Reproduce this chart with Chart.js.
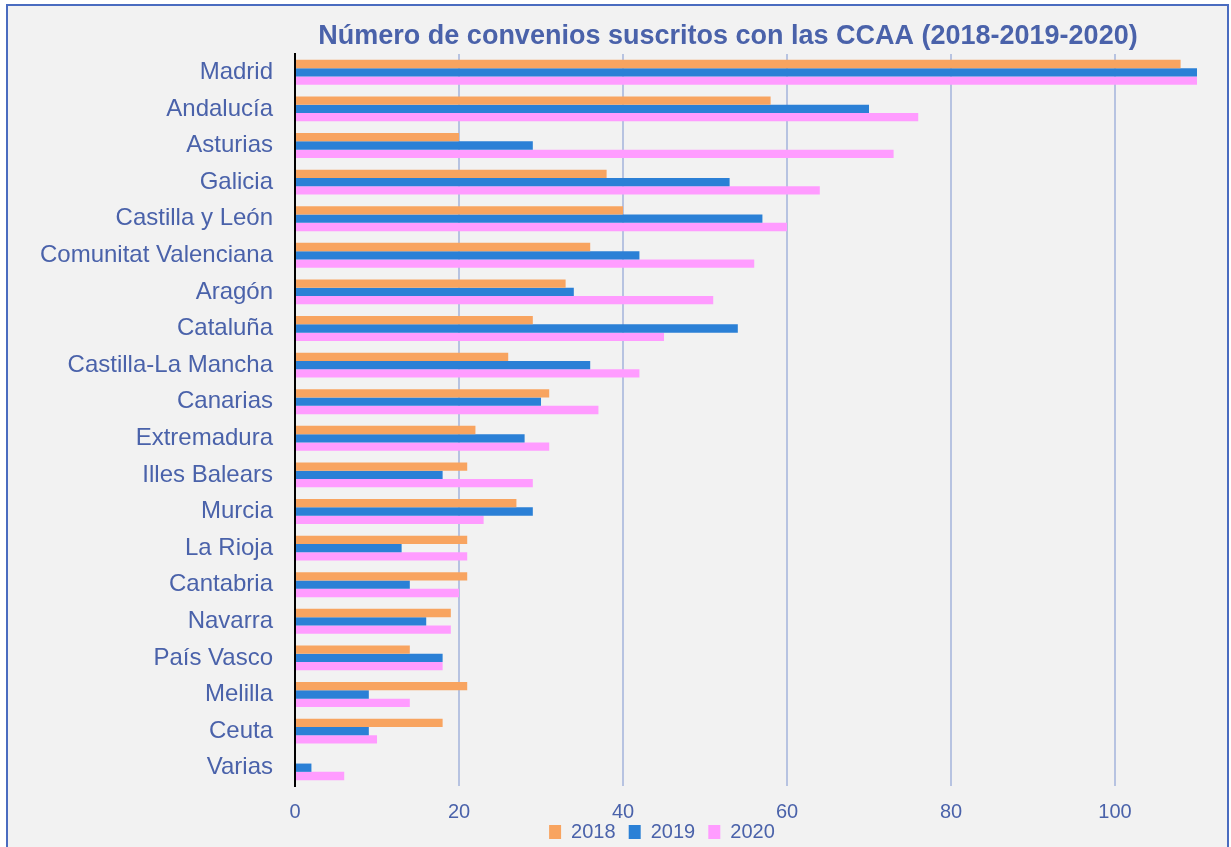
<!DOCTYPE html>
<html>
<head>
<meta charset="utf-8">
<script src="https://cdn.jsdelivr.net/npm/chart.js@4.4.1/dist/chart.umd.min.js"></script>
<style>
    html, body { margin: 0; padding: 0; background: #ffffff; }
    #wrap { position: relative; width: 1231px; height: 847px; }
</style>
</head>
<body>
<div id="wrap"><canvas id="convenios"></canvas></div>
<script>
// --- DATA ---
const title = 'Número de convenios suscritos con las CCAA (2018-2019-2020)';
const regions = [
    'Madrid', 'Andalucía', 'Asturias', 'Galicia', 'Castilla y León',
    'Comunitat Valenciana', 'Aragón', 'Cataluña', 'Castilla-La Mancha', 'Canarias',
    'Extremadura', 'Illes Balears', 'Murcia', 'La Rioja', 'Cantabria',
    'Navarra', 'País Vasco', 'Melilla', 'Ceuta', 'Varias'
];
const years = ['2018', '2019', '2020'];
const values2018 = [108, 58, 20, 38, 40, 36, 33, 29, 26, 31, 22, 21, 27, 21, 21, 19, 14, 21, 18, 0];
const values2019 = [110, 70, 29, 53, 57, 42, 34, 54, 36, 30, 28, 18, 29, 13, 14, 16, 18, 9, 9, 2];
const values2020 = [110, 76, 73, 64, 60, 56, 51, 45, 42, 37, 31, 29, 23, 21, 20, 19, 18, 14, 10, 6];
const xTicks = [0, 20, 40, 60, 80, 100];

// --- STYLE ---
const fontFamily = 'Liberation Sans, Arial, sans-serif';
const textColor = '#4a62aa';
const gridColor = '#b7c3e1';
const colors = ['#f8a460', '#2b80d6', '#ff9cff'];

// background, frame and title, placed like the original picture
const framePlugin = {
    id: 'frame',
    afterLayout(chart) {
        // legend in the original sits right of centre, tight under the ticks
        chart.legend.left += 60;
        chart.legend.right += 60;
        chart.legend.top -= 18;
        chart.legend.bottom -= 18;
    },
    beforeDraw(chart) {
        const ctx = chart.ctx;
        ctx.save();
        ctx.fillStyle = '#f2f2f2';
        ctx.fillRect(7, 5, 1221, 850);
        ctx.strokeStyle = '#4a6cc0';
        ctx.lineWidth = 2;
        ctx.strokeRect(7, 5, 1221, 850);
        ctx.restore();
    },
    afterDraw(chart) {
        const ctx = chart.ctx;
        ctx.save();
        ctx.fillStyle = textColor;
        ctx.font = 'bold 27px ' + fontFamily;
        ctx.textAlign = 'center';
        ctx.textBaseline = 'middle';
        ctx.fillText(title, 728, 37);
        ctx.restore();
    }
};

const seriesValues = [values2018, values2019, values2020];

new Chart(document.getElementById('convenios'), {
    type: 'bar',
    data: {
        labels: regions,
        datasets: years.map((year, i) => ({
            label: year,
            data: seriesValues[i],
            backgroundColor: colors[i],
            borderWidth: 0,
            categoryPercentage: 0.68,
            barPercentage: 1.0
        }))
    },
    options: {
        indexAxis: 'y',
        responsive: true,
        maintainAspectRatio: false,
        animation: false,
        layout: { padding: { left: 18, right: 34, top: 54, bottom: -21 } },
        plugins: {
            title: { display: false },
            legend: {
                position: 'bottom',
                maxHeight: 30,
                labels: {
                    color: textColor,
                    font: { family: fontFamily, size: 20 },
                    boxWidth: 12,
                    boxHeight: 14,
                    padding: 2,
                    generateLabels: chart => Chart.defaults.plugins.legend.labels.generateLabels(chart)
                        .map(item => ({ ...item, text: item.text + '  ' }))
                }
            },
            tooltip: { enabled: false }
        },
        scales: {
            x: {
                min: 0,
                max: 110,
                afterBuildTicks: axis => {
                    axis.ticks = xTicks.map(v => ({ value: v }));
                },
                ticks: {
                    color: textColor,
                    font: { family: fontFamily, size: 20, lineHeight: 0.2 },
                    padding: 24
                },
                grid: {
                    color: ctx => (ctx.tick && ctx.tick.value === 0) ? 'rgba(0,0,0,0)' : gridColor,
                    lineWidth: 2,
                    drawTicks: false
                },
                border: { display: false }
            },
            y: {
                ticks: {
                    color: textColor,
                    font: { family: fontFamily, size: 24 },
                    padding: 22
                },
                grid: { display: false, drawTicks: false },
                border: { display: true, color: '#000000', width: 2 }
            }
        }
    },
    plugins: [framePlugin]
});
</script>
</body>
</html>
